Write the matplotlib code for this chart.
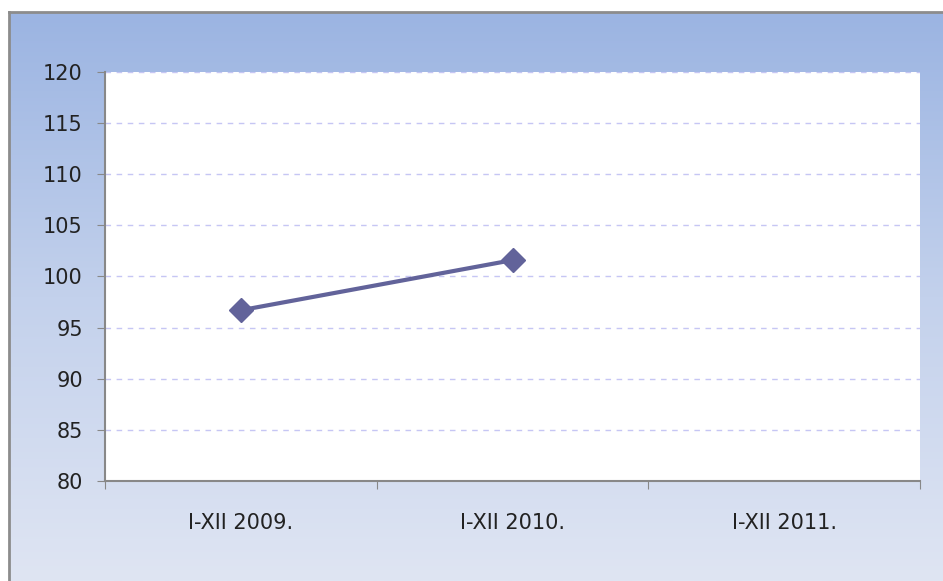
import numpy as np
import matplotlib.pyplot as plt
import matplotlib.colors as mcolors

categories = ["I-XII 2009.", "I-XII 2010.", "I-XII 2011."]
values = [96.7, 101.6, np.nan]
y_ticks = [80, 85, 90, 95, 100, 105, 110, 115, 120]

W, H = 943, 581
fig = plt.figure(figsize=(W / 100, H / 100), dpi=100)
fig.patch.set_facecolor("white")

# gradient background panel, grey border only on top and left
bg = fig.add_axes([9 / W, 0, (W - 9) / W, (H - 12) / H], zorder=0)
cmap = mcolors.LinearSegmentedColormap.from_list("bg", ["#9BB4E2", "#C3D1EC", "#DFE5F3"])
grad = np.linspace(0, 1, 256).reshape(-1, 1)
bg.imshow(grad, aspect="auto", cmap=cmap, extent=[0, 1, 0, 1], origin="upper")
bg.set_xticks([])
bg.set_yticks([])
for side in ["right", "bottom"]:
    bg.spines[side].set_visible(False)
for side in ["top", "left"]:
    bg.spines[side].set_color("#8C8C8C")
    bg.spines[side].set_linewidth(2)

ax = fig.add_axes([105 / W, 1 - 481 / H, (920 - 105) / W, (481 - 72) / H], zorder=1)
ax.set_facecolor("white")

x = np.arange(len(categories))
ax.plot(x, values, color="#62639A", lw=3, marker="D", ms=12, zorder=3)

ax.set_xlim(-0.5, len(categories) - 0.5)
ax.set_ylim(80, 120)
ax.set_yticks(y_ticks)
ax.set_yticklabels([str(v) for v in y_ticks], fontsize=15, color="#222222")
ax.yaxis.grid(True, color="#C6C6F4", linestyle=(0, (4, 4)), lw=1)
ax.set_axisbelow(True)

ax.set_xticks(np.arange(len(categories) + 1) - 0.5)
ax.set_xticklabels([])
ax.set_xticks(x, minor=True)
ax.set_xticklabels(categories, minor=True, fontsize=15, color="#222222")
ax.tick_params(axis="x", which="minor", length=0, pad=23)
ax.tick_params(axis="x", which="major", length=6, color="#888888")
ax.tick_params(axis="y", length=6, color="#888888", pad=10)

ax.spines["top"].set_visible(False)
ax.spines["right"].set_visible(False)
ax.spines["left"].set_color("#888888")
ax.spines["bottom"].set_color("#888888")
ax.spines["left"].set_linewidth(1.5)
ax.spines["bottom"].set_linewidth(1.5)

fig.savefig("out.png", dpi=100)
